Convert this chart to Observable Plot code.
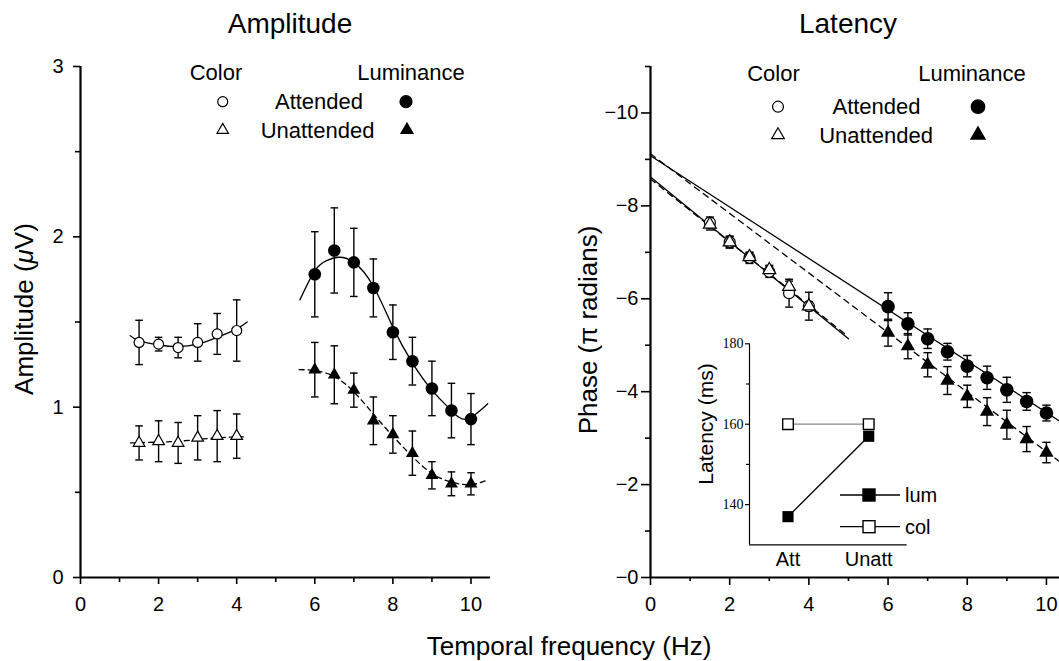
<!DOCTYPE html>
<html><head><meta charset="utf-8">
<script src="https://cdn.jsdelivr.net/npm/d3@7"></script>
<script src="https://cdn.jsdelivr.net/npm/@observablehq/plot@0.6"></script>
<style>
body{margin:0;background:#fff;}
#wrap{position:relative;width:1059px;height:661px;overflow:hidden;font-family:"Liberation Sans",Arial,sans-serif;background:#fff;}
</style></head><body><div id="wrap"></div>
<script>
// ---------- DATA ----------
const freqColor = [1.5, 2, 2.5, 3, 3.5, 4];
const freqLum = [6, 6.5, 7, 7.5, 8, 8.5, 9, 9.5, 10];

// Amplitude (µV)
const ampColAtt = [1.38, 1.37, 1.35, 1.38, 1.43, 1.45];
const ampColAttErr = [0.13, 0.04, 0.06, 0.11, 0.12, 0.18];
const ampColUnatt = [0.79, 0.80, 0.79, 0.82, 0.83, 0.83];
const ampColUnattErr = [0.10, 0.12, 0.12, 0.13, 0.15, 0.13];
const ampLumAtt = [1.78, 1.92, 1.85, 1.70, 1.44, 1.27, 1.11, 0.98, 0.93];
const ampLumAttErr = [0.25, 0.25, 0.20, 0.17, 0.16, 0.14, 0.16, 0.16, 0.15];
const ampLumUnatt = [1.22, 1.19, 1.10, 0.92, 0.84, 0.73, 0.60, 0.55, 0.55];
const ampLumUnattErr = [0.16, 0.17, 0.10, 0.14, 0.11, 0.13, 0.08, 0.07, 0.065];

// Amplitude fit curves
const fitAmpColAttX = [1.27, 1.5, 2, 2.5, 3, 3.5, 4, 4.27];
const fitAmpColAttY = [1.42, 1.39, 1.365, 1.355, 1.37, 1.41, 1.46, 1.50];
const fitAmpColUnattX = [1.28, 2, 2.5, 3, 3.5, 4, 4.18];
const fitAmpColUnattY = [0.79, 0.795, 0.80, 0.81, 0.82, 0.825, 0.825];
const fitAmpLumAttX = [5.62, 6, 6.3, 6.6, 7, 7.5, 8, 8.5, 9, 9.5, 9.9, 10.43];
const fitAmpLumAttY = [1.63, 1.80, 1.86, 1.88, 1.85, 1.71, 1.47, 1.26, 1.10, 0.98, 0.93, 1.02];
const fitAmpLumUnattX = [5.6, 6, 6.5, 7, 7.5, 8, 8.5, 9, 9.5, 10, 10.45];
const fitAmpLumUnattY = [1.22, 1.215, 1.18, 1.09, 0.96, 0.83, 0.71, 0.61, 0.56, 0.545, 0.575];

// Phase (π radians)
const phaseColAtt = [-7.64, -7.22, -6.88, -6.58, -6.12, -5.84];
const phaseColAttErr = [0.12, 0.13, 0.12, 0.12, 0.30, 0.30];
const phaseColUnatt = [-7.60, -7.22, -6.90, -6.62, -6.26, -5.84];
const phaseColUnattErr = [0.12, 0.12, 0.10, 0.10, 0.12, 0.10];
const phaseLumAtt = [-5.83, -5.46, -5.14, -4.86, -4.55, -4.30, -4.04, -3.79, -3.54];
const phaseLumAttErr = [0.30, 0.24, 0.21, 0.18, 0.23, 0.25, 0.27, 0.19, 0.17];
const phaseLumUnatt = [-5.27, -4.98, -4.58, -4.24, -3.90, -3.57, -3.29, -2.98, -2.69];
const phaseLumUnattErr = [0.29, 0.27, 0.26, 0.30, 0.24, 0.30, 0.31, 0.27, 0.22];

// Phase fit lines
const fitPhaseLumAttX = [0, 10.4];
const fitPhaseLumAttY = [-9.08, -3.33];
const fitPhaseLumUnattX = [0, 10.4];
const fitPhaseLumUnattY = [-9.12, -2.45];
const fitPhaseColAttX = [0, 5.0];
const fitPhaseColAttY = [-8.62, -5.14];
const fitPhaseColUnattX = [0, 4.9];
const fitPhaseColUnattY = [-8.58, -5.25];

// Inset latency (ms)
const insetConditions = ["Att", "Unatt"];
const latencyLum = [137, 157];
const latencyCol = [160, 160];

// Tick values
const ampYTicks = [0, 1, 2, 3];
const ampYMinor = [0.5, 1.5, 2.5];
const xTicks = [0, 2, 4, 6, 8, 10];
const xMinor = [1, 3, 5, 7, 9];
const phaseYTicks = [0, -2, -4, -6, -8, -10];
const phaseYMinor = [-1, -3, -5, -7, -9, -11];
const latTicks = [140, 160, 180];
const latMinor = [150, 170];

// ---------- HELPERS ----------
const pts = (xs, ys, es) => xs.map((x, i) => ({x, y: ys[i], e: es ? es[i] : 0}));
const capSymbol = {draw(ctx, size) { const w = Math.sqrt(size / Math.PI); ctx.moveTo(-w, 0); ctx.lineTo(w, 0); }};
function errMarks(data, capR) {
  return [
    Plot.ruleX(data, {x: "x", y1: d => d.y - d.e, y2: d => d.y + d.e, stroke: "black", strokeWidth: 1.4}),
    Plot.dot(data, {x: "x", y: d => d.y + d.e, symbol: capSymbol, r: capR, stroke: "black", strokeWidth: 1.4, fill: "none"}),
    Plot.dot(data, {x: "x", y: d => d.y - d.e, symbol: capSymbol, r: capR, stroke: "black", strokeWidth: 1.4, fill: "none"})
  ];
}
const FONT = "Liberation Sans, Arial, sans-serif";
const plainFmt = d => String(d);
const minusFmt = d => d === 0 ? "\u22120" : (d < 0 ? "\u2212" + Math.abs(d) : String(d));

const wrap = document.getElementById("wrap");

// ---------- LEFT PANEL: AMPLITUDE ----------
const left = Plot.plot({
  width: 530, height: 661,
  marginLeft: 80, marginRight: 40, marginTop: 66, marginBottom: 84,
  x: {domain: [0, 10.5]},
  y: {domain: [0, 3]},
  style: {position: "absolute", left: "0px", top: "0px", overflow: "visible", background: "transparent", fontFamily: FONT},
  marks: [
    Plot.line(pts(fitAmpColAttX, fitAmpColAttY), {x: "x", y: "y", curve: "natural", stroke: "black", strokeWidth: 1.3}),
    Plot.line(pts(fitAmpColUnattX, fitAmpColUnattY), {x: "x", y: "y", curve: "natural", stroke: "black", strokeWidth: 1.3, strokeDasharray: "5,4"}),
    Plot.line(pts(fitAmpLumAttX, fitAmpLumAttY), {x: "x", y: "y", curve: "natural", stroke: "black", strokeWidth: 1.3}),
    Plot.line(pts(fitAmpLumUnattX, fitAmpLumUnattY), {x: "x", y: "y", curve: "natural", stroke: "black", strokeWidth: 1.3, strokeDasharray: "5,4"}),
    ...errMarks(pts(freqColor, ampColAtt, ampColAttErr), 3.8),
    ...errMarks(pts(freqColor, ampColUnatt, ampColUnattErr), 3.8),
    ...errMarks(pts(freqLum, ampLumAtt, ampLumAttErr), 3.8),
    ...errMarks(pts(freqLum, ampLumUnatt, ampLumUnattErr), 3.8),
    Plot.dot(pts(freqColor, ampColAtt), {x: "x", y: "y", r: 5, fill: "white", stroke: "black", strokeWidth: 1.2}),
    Plot.dot(pts(freqColor, ampColUnatt), {x: "x", y: "y", symbol: "triangle", r: 4.3, fill: "white", stroke: "black", strokeWidth: 1.2}),
    Plot.dot(pts(freqLum, ampLumAtt), {x: "x", y: "y", r: 6.3, fill: "black"}),
    Plot.dot(pts(freqLum, ampLumUnatt), {x: "x", y: "y", symbol: "triangle", r: 4.8, fill: "black"}),
    Plot.ruleX([0], {stroke: "black", strokeWidth: 2.2}),
    Plot.ruleY([0], {stroke: "black", strokeWidth: 2.2}),
    Plot.axisX(xTicks, {tickSize: 7, tickPadding: 12, fontSize: 20, strokeWidth: 1.6, tickFormat: plainFmt, label: null}),
    Plot.axisX(xMinor, {tickSize: 5, tickFormat: () => "", strokeWidth: 1.6, label: null}),
    Plot.axisY(ampYTicks, {tickSize: 7, tickPadding: 10, fontSize: 20, strokeWidth: 1.6, tickFormat: plainFmt, label: null}),
    Plot.axisY(ampYMinor, {tickSize: 5, tickFormat: () => "", strokeWidth: 1.6, label: null})
  ]
});
wrap.appendChild(left);

// ---------- RIGHT PANEL: LATENCY / PHASE ----------
const right = Plot.plot({
  width: 529, height: 661,
  marginLeft: 120, marginRight: 0, marginTop: 66, marginBottom: 84,
  x: {domain: [0, 10.33]},
  y: {domain: [0, -11]},
  style: {position: "absolute", left: "530px", top: "0px", overflow: "visible", background: "transparent", fontFamily: FONT},
  marks: [
    Plot.line(pts(fitPhaseLumAttX, fitPhaseLumAttY), {x: "x", y: "y", stroke: "black", strokeWidth: 1.3}),
    Plot.line(pts(fitPhaseLumUnattX, fitPhaseLumUnattY), {x: "x", y: "y", stroke: "black", strokeWidth: 1.3, strokeDasharray: "6,5"}),
    Plot.line(pts(fitPhaseColAttX, fitPhaseColAttY), {x: "x", y: "y", stroke: "black", strokeWidth: 1.3}),
    Plot.line(pts(fitPhaseColUnattX, fitPhaseColUnattY), {x: "x", y: "y", stroke: "black", strokeWidth: 1.3, strokeDasharray: "6,5"}),
    ...errMarks(pts(freqColor, phaseColAtt, phaseColAttErr), 4),
    ...errMarks(pts(freqColor, phaseColUnatt, phaseColUnattErr), 4),
    ...errMarks(pts(freqLum, phaseLumAtt, phaseLumAttErr), 4.2),
    ...errMarks(pts(freqLum, phaseLumUnatt, phaseLumUnattErr), 4.2),
    Plot.dot(pts(freqColor, phaseColAtt), {x: "x", y: "y", r: 5.5, fill: "white", stroke: "black", strokeWidth: 1.2}),
    Plot.dot(pts(freqColor, phaseColUnatt), {x: "x", y: "y", symbol: "triangle", r: 4.8, fill: "white", stroke: "black", strokeWidth: 1.2}),
    Plot.dot(pts(freqLum, phaseLumAtt), {x: "x", y: "y", r: 6.8, fill: "black"}),
    Plot.dot(pts(freqLum, phaseLumUnatt), {x: "x", y: "y", symbol: "triangle", r: 5.3, fill: "black"}),
    Plot.ruleX([0], {stroke: "black", strokeWidth: 2.2}),
    Plot.ruleY([0], {stroke: "black", strokeWidth: 2.2}),
    Plot.axisX(xTicks, {tickSize: 8, tickPadding: 11, fontSize: 20, strokeWidth: 1.6, tickFormat: plainFmt, label: null}),
    Plot.axisX(xMinor, {tickSize: 4, tickFormat: () => "", strokeWidth: 1.6, label: null}),
    Plot.axisY(phaseYTicks, {tickSize: 9, tickPadding: 3, fontSize: 20, strokeWidth: 1.6, tickFormat: minusFmt, label: null}),
    Plot.axisY(phaseYMinor, {tickSize: 5, tickFormat: () => "", strokeWidth: 1.6, label: null})
  ]
});
wrap.appendChild(right);

// ---------- INSET ----------
const insetLum = latencyLum.map((v, i) => ({i, v}));
const insetCol = latencyCol.map((v, i) => ({i, v}));
const inset = Plot.plot({
  width: 220, height: 260,
  marginLeft: 59, marginRight: 3.3, marginTop: 23.3, marginBottom: 35.7,
  x: {domain: [-0.477, 1.477]},
  y: {domain: [130, 180]},
  style: {position: "absolute", left: "690px", top: "320px", overflow: "visible", background: "transparent", fontFamily: FONT},
  marks: [
    Plot.ruleX([-0.477], {stroke: "black", strokeWidth: 1.2}),
    Plot.ruleY([130], {stroke: "black", strokeWidth: 1.2}),
    Plot.line(insetCol, {x: "i", y: "v", stroke: "#888", strokeWidth: 1.3}),
    Plot.line(insetLum, {x: "i", y: "v", stroke: "black", strokeWidth: 1.3}),
    Plot.dot(insetLum, {x: "i", y: "v", symbol: "square", r: 6.3, fill: "black"}),
    Plot.dot(insetCol, {x: "i", y: "v", symbol: "square", r: 6.0, fill: "white", stroke: "black", strokeWidth: 1.4}),
    Plot.axisY(latTicks, {tickSize: 4, tickPadding: 2, fontSize: 14, fontFamily: "Liberation Serif, serif", strokeWidth: 1.2, tickFormat: plainFmt, label: null}),
    Plot.axisY(latMinor, {tickSize: 3, tickFormat: () => "", strokeWidth: 1.2, label: null}),
    Plot.axisX([0, 1], {tickSize: 0, tickPadding: 7, fontSize: 20, tickFormat: i => insetConditions[i], label: null})
  ]
});
wrap.appendChild(inset);

// ---------- TEXT OVERLAY (titles, axis labels, legends) ----------
const ov = d3.select(wrap).append("svg")
  .attr("width", 1059).attr("height", 661)
  .style("position", "absolute").style("left", "0px").style("top", "0px")
  .style("font-family", FONT).style("pointer-events", "none");

function txt(s, x, y, size, anchor = "middle", rot = 0) {
  const t = ov.append("text").attr("text-anchor", anchor).attr("font-size", size).attr("fill", "black")
    .attr("transform", `translate(${x},${y}) rotate(${rot})`);
  return t.text(s);
}
txt("Amplitude", 290, 33, 28);
txt("Latency", 848, 33, 28);
txt("Temporal frequency (Hz)", 569, 655, 26);
// y labels
const yl = ov.append("text").attr("text-anchor", "middle").attr("font-size", 26)
  .attr("transform", "translate(33,309) rotate(-90)");
yl.append("tspan").text("Amplitude (");
yl.append("tspan").attr("font-style", "italic").text("\u03bc");
yl.append("tspan").text("V)");
txt("Phase (\u03c0 radians)", 597, 330, 26, "middle", -90);

// legends
const sym = (type, size) => d3.symbol(type, size)();
function mark(type, x, y, size, filled) {
  ov.append("path").attr("d", sym(type, size)).attr("transform", `translate(${x},${y})`)
    .attr("fill", filled ? "black" : "white").attr("stroke", "black").attr("stroke-width", 1.2);
}
// left legend
txt("Color", 216, 80, 22);
txt("Luminance", 411, 80, 22);
txt("Attended", 319, 109, 22);
txt("Unattended", 317.5, 137.5, 22);
mark(d3.symbolCircle, 222.7, 101.7, Math.PI * 25, false);
mark(d3.symbolCircle, 406, 101.7, Math.PI * 36, true);
mark(d3.symbolTriangle, 222.7, 130, Math.PI * 18, false);
mark(d3.symbolTriangle, 407, 130, Math.PI * 20, true);
// right legend
txt("Color", 773.5, 80.5, 22);
txt("Luminance", 972, 80.5, 22);
txt("Attended", 876.5, 114, 22);
txt("Unattended", 876, 142.5, 22);
mark(d3.symbolCircle, 778, 106.7, Math.PI * 30, false);
mark(d3.symbolCircle, 978, 106.7, Math.PI * 46, true);
mark(d3.symbolTriangle, 778, 135, Math.PI * 22, false);
mark(d3.symbolTriangle, 978, 135, Math.PI * 28, true);

// inset y label
txt("Latency (ms)", 713, 424, 21, "middle", -90);
// inset legend
function insetLeg(y, filled, label) {
  ov.append("line").attr("x1", 840).attr("x2", 900).attr("y1", y).attr("y2", y).attr("stroke", "black").attr("stroke-width", 1.3);
  ov.append("rect").attr("x", 863).attr("y", y - 6).attr("width", 12).attr("height", 12)
    .attr("fill", filled ? "black" : "white").attr("stroke", "black").attr("stroke-width", 1.4);
  txt(label, 905, y + 7, 20, "start");
}
insetLeg(495, true, "lum");
insetLeg(526.7, false, "col");
</script></body></html>
